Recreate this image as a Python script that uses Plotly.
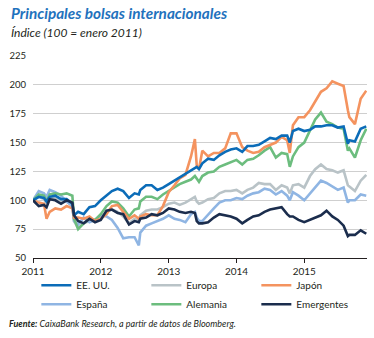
import plotly.graph_objects as go

# Observation dates: month starts plus a few key market days
dates = [
    "2011-01-01", "2011-02-01", "2011-03-01", "2011-03-15", "2011-04-01", "2011-05-01",
    "2011-06-01", "2011-07-01", "2011-08-01", "2011-08-10", "2011-09-01", "2011-10-01",
    "2011-11-01", "2011-12-01",
    "2012-01-01", "2012-02-01", "2012-03-01", "2012-04-01", "2012-05-01", "2012-06-01",
    "2012-07-01", "2012-07-24", "2012-08-01", "2012-09-01", "2012-10-01", "2012-11-01",
    "2012-12-01",
    "2013-01-01", "2013-02-01", "2013-03-01", "2013-04-01", "2013-05-01", "2013-05-22",
    "2013-06-01", "2013-06-13", "2013-07-01", "2013-08-01", "2013-09-01", "2013-10-01",
    "2013-11-01", "2013-12-01",
    "2014-01-01", "2014-02-01", "2014-03-01", "2014-04-01", "2014-05-01", "2014-06-01",
    "2014-07-01", "2014-08-01", "2014-09-01", "2014-10-01", "2014-10-15", "2014-11-01",
    "2014-12-01",
    "2015-01-01", "2015-02-01", "2015-03-01", "2015-04-01", "2015-05-01", "2015-06-01",
    "2015-07-01", "2015-08-01", "2015-08-24", "2015-09-01", "2015-10-01", "2015-11-01",
    "2015-12-01",
]

eeuu = [
    100, 103, 102, 99, 103, 104, 101, 101, 97, 87, 90, 88, 94, 95,
    100, 104, 108, 110, 108, 102, 106, 105, 109, 113, 113, 109, 111,
    114, 117, 120, 123, 126, 128, 129, 127, 132, 136, 135, 139, 142, 144,
    145, 142, 147, 147, 148, 151, 154, 153, 156, 156, 150, 160, 162,
    160, 161, 164, 164, 165, 165, 163, 164, 149, 152, 151, 162, 164,
]

europa = [
    100, 103, 101, 97, 102, 102, 99, 99, 95, 82, 76, 80, 82, 82,
    85, 90, 92, 90, 86, 80, 84, 82, 87, 91, 92, 92, 94,
    97, 98, 96, 98, 101, 103, 99, 97, 98, 101, 102, 106, 108, 108,
    109, 106, 109, 111, 115, 114, 114, 109, 113, 111, 106, 113, 114,
    111, 121, 127, 131, 127, 126, 124, 126, 113, 112, 108, 117, 122,
]

japon = [
    100, 98, 97, 84, 90, 93, 92, 95, 93, 85, 85, 84, 86, 82,
    84, 88, 95, 96, 90, 84, 87, 84, 86, 88, 87, 87, 95,
    107, 113, 119, 122, 138, 153, 130, 127, 143, 138, 141, 141, 145, 158,
    158, 146, 143, 141, 142, 146, 148, 150, 155, 152, 141, 165, 172,
    172, 178, 186, 194, 197, 203, 201, 199, 178, 172, 166, 188, 195,
]

espana = [
    100, 108, 106, 103, 109, 107, 104, 99, 95, 82, 79, 85, 81, 83,
    87, 86, 83, 76, 67, 68, 68, 61, 72, 78, 80, 82, 84,
    87, 84, 83, 81, 88, 90, 85, 82, 82, 88, 93, 98, 100, 100,
    102, 101, 104, 106, 107, 110, 109, 105, 108, 104, 100, 107, 104,
    100, 106, 112, 117, 115, 112, 109, 111, 98, 100, 100, 105, 104,
]

alemania = [
    100, 105, 104, 99, 105, 106, 105, 106, 104, 84, 75, 80, 84, 83,
    88, 95, 99, 98, 93, 86, 92, 93, 99, 103, 103, 101, 105,
    108, 111, 114, 116, 118, 121, 119, 116, 121, 124, 125, 129, 131, 133,
    135, 131, 135, 136, 139, 143, 146, 137, 141, 140, 129, 138, 146,
    150, 160, 170, 176, 168, 166, 163, 162, 143, 145, 137, 152, 162,
]

emergentes = [
    100, 95, 96, 94, 101, 100, 97, 100, 98, 87, 82, 80, 84, 81,
    83, 91, 92, 89, 88, 79, 82, 81, 84, 85, 88, 87, 89,
    93, 92, 90, 89, 90, 89, 82, 80, 80, 81, 85, 88, 87, 86,
    84, 80, 83, 86, 87, 90, 92, 93, 94, 88, 86, 86, 83,
    81, 83, 85, 87, 91, 86, 83, 78, 69, 70, 70, 74, 71,
]

series_names = ["EE. UU.", "Europa", "Japón", "España", "Alemania", "Emergentes"]
series_values = [eeuu, europa, japon, espana, alemania, emergentes]
series_colors = ["#0b6cb8", "#b9c3c7", "#f4935f", "#8fb5e3", "#6cbd7e", "#1b2d4d"]

# Draw order keeps the lighter lines underneath
draw_order = [1, 3, 4, 2, 0, 5]

y_ticks = [50, 75, 100, 125, 150, 175, 200, 225]
x_ticks = ["2011-01-01", "2012-01-01", "2013-01-01", "2014-01-01", "2015-01-01"]
x_tick_labels = ["2011", "2012", "2013", "2014", "2015"]

font_family = "Lato, 'Open Sans', sans-serif"

fig = go.Figure()
for i in draw_order:
    fig.add_trace(go.Scatter(
        x=dates, y=series_values[i], name=series_names[i], mode="lines",
        line=dict(color=series_colors[i], width=2.6), legendrank=i + 1,
    ))

fig.update_layout(
    width=374, height=338,
    margin=dict(l=33, r=7, t=56, b=80),
    paper_bgcolor="white", plot_bgcolor="white",
    font=dict(family=font_family, size=10, color="#231f20"),
    showlegend=True,
    legend=dict(
        orientation="h", x=0.01, xanchor="left", y=-0.063, yanchor="top",
        entrywidth=65, entrywidthmode="pixels", itemwidth=30,
        font=dict(size=10, color="#231f20"), tracegroupgap=0,
        bgcolor="rgba(0,0,0,0)", traceorder="normal",
    ),
    xaxis=dict(
        type="date", range=["2011-01-01", "2015-12-05"],
        tickvals=x_ticks, ticktext=x_tick_labels,
        showgrid=False, zeroline=False,
        showline=True, linecolor="#231f20", linewidth=1.3,
        ticks="outside", ticklen=4, tickcolor="#231f20", tickwidth=1,
        tickfont=dict(size=10, color="#231f20"),
    ),
    yaxis=dict(
        range=[50, 225], tickvals=y_ticks,
        showgrid=True, gridcolor="#cfcfcf", gridwidth=1,
        zeroline=False, showline=False, ticks="",
        tickfont=dict(size=9.5, color="#231f20"), ticklabelstandoff=6,
    ),
)

fig.add_annotation(
    text="<b><i>Principales bolsas internacionales</i></b>",
    xref="paper", yref="paper", x=0, xshift=-24, y=1, yshift=54,
    xanchor="left", yanchor="top", showarrow=False,
    font=dict(size=15.3, color="#1f72bd", family=font_family),
)
fig.add_annotation(
    text="<i>Índice (100 = enero 2011)</i>",
    xref="paper", yref="paper", x=0, xshift=-24, y=1, yshift=33,
    xanchor="left", yanchor="top", showarrow=False,
    font=dict(size=12, color="#231f20", family=font_family),
)
fig.add_annotation(
    text="<b><i>Fuente:</i></b><i> CaixaBank Research, a partir de datos de Bloomberg.</i>",
    xref="paper", yref="paper", x=0, xshift=-26, y=0, yshift=-58,
    xanchor="left", yanchor="top", showarrow=False,
    font=dict(size=9, color="#231f20", family=font_family),
)

fig.write_html("out.html")
